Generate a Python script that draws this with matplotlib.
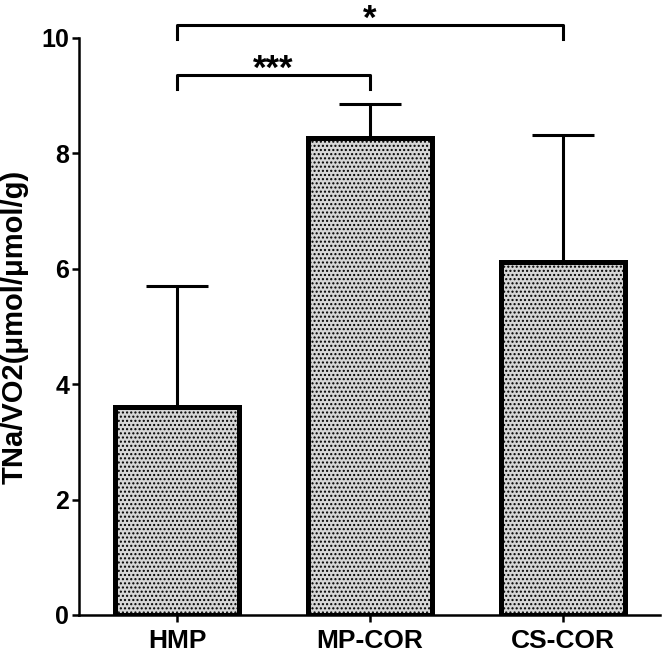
import numpy as np
import matplotlib
matplotlib.use("Agg")
import matplotlib.pyplot as plt

# =====================================================
# DATA
# =====================================================

groups = ["HMP", "MP-COR", "CS-COR"]
means = [3.6, 8.27, 6.12]
sd = [2.1, 0.58, 2.2]

# significance brackets: (left index, right index, bracket y, label)
brackets = [
    (0, 2, 10.22, "*"),
    (0, 1, 9.36, "***"),
]

y_ticks = [0, 2, 4, 6, 8, 10]

# =====================================================
# FIGURE
# =====================================================

plt.rcParams["font.family"] = ["Liberation Sans", "DejaVu Sans"]
plt.rcParams["font.weight"] = "bold"
plt.rcParams["hatch.linewidth"] = 1.0

fig = plt.figure(figsize=(6.64, 6.56), dpi=100)
ax = fig.add_axes([0.119, 0.0625, 0.875, 0.8796])

x = np.arange(len(groups))

ax.bar(
    x,
    means,
    width=0.645,
    color="#d6d6d6",
    edgecolor="black",
    linewidth=3.6,
    hatch="....",
    zorder=2,
)

ax.errorbar(
    x,
    means,
    yerr=[np.zeros(len(sd)), sd],
    fmt="none",
    ecolor="black",
    elinewidth=2.2,
    capsize=22.5,
    capthick=2.2,
    zorder=3,
)

# -----------------------------------------------------
# Significance brackets
# -----------------------------------------------------

drop = 0.24
for i, j, y, label in brackets:
    ax.plot(
        [x[i], x[i], x[j], x[j]],
        [y - drop, y, y, y - drop],
        color="black",
        linewidth=2.2,
        clip_on=False,
        zorder=4,
    )
    ax.text(
        (x[i] + x[j]) / 2,
        y + 0.1,
        label,
        ha="center",
        va="center",
        fontsize=25,
        fontweight="bold",
    )

# -----------------------------------------------------
# Axes styling
# -----------------------------------------------------

ax.set_xlim(-0.508, 2.503)
ax.set_ylim(0, 10)
ax.set_yticks(y_ticks)
ax.set_xticks(x)
ax.set_xticklabels(groups)

ax.spines["top"].set_visible(False)
ax.spines["right"].set_visible(False)
ax.spines["left"].set_linewidth(1.8)
ax.spines["bottom"].set_linewidth(1.8)

ax.tick_params(axis="y", direction="out", length=5, width=1.8, labelsize=18, pad=2)
ax.tick_params(axis="x", direction="out", length=5, width=1.8, labelsize=19, pad=5)

for lbl in ax.get_xticklabels() + ax.get_yticklabels():
    lbl.set_fontweight("bold")

ax.set_ylabel(
    "TNa/VO2(μmol/μmol/g)",
    fontsize=21,
    fontweight="bold",
)
ax.yaxis.set_label_coords(-0.086, 0.5)

plt.savefig("out.png", dpi=100)
plt.close()
